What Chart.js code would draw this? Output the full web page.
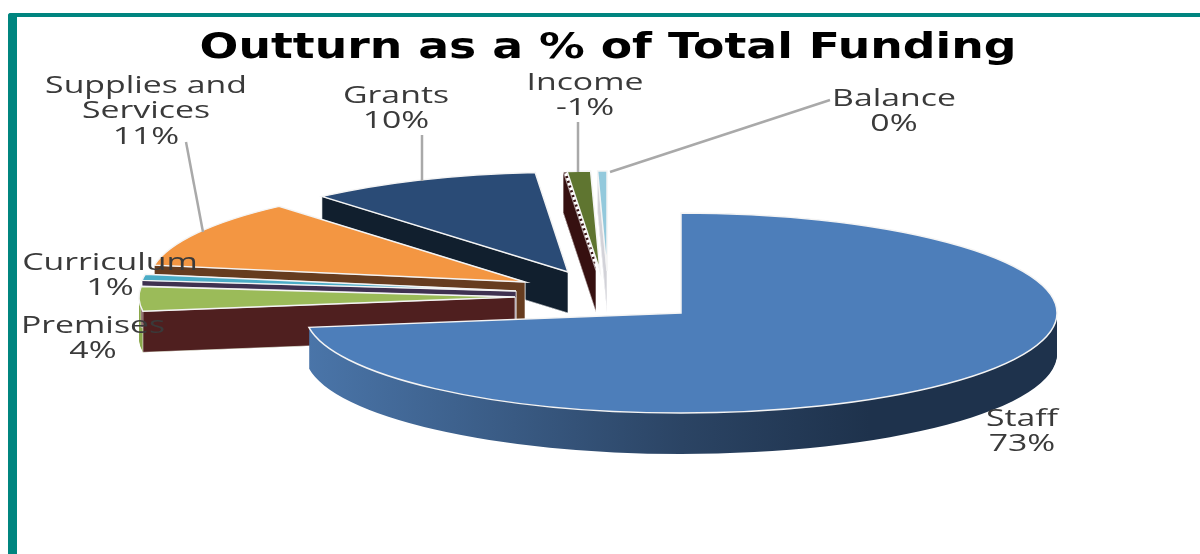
<!DOCTYPE html>
<html>
<head>
<meta charset="utf-8">
<script src="https://cdn.jsdelivr.net/npm/chart.js@4"></script>
<style>
  html, body { margin: 0; background: #fff; overflow: hidden; }
  #wrap { position: relative; width: 1200px; height: 554px; }
  #frame {
    position: absolute; left: 8px; top: 13px; width: 1300px; height: 700px;
    border-left: 9px solid #00857f; border-top: 4px solid #00857f;
    border-top-left-radius: 3px;
  }
  canvas { position: absolute; left: 0; top: 0; }
</style>
</head>
<body>
<div id="wrap">
  <div id="frame"></div>
  <canvas id="pie" width="1200" height="554"></canvas>
</div>
<script>
const categories = ['Staff', 'Premises', 'Curriculum', 'Supplies and Services', 'Grants', 'Income', 'Balance'];
const outturn = [73, 4, 1, 11, 10, -1, 0.4];
const chartTitle = 'Outturn as a % of Total Funding';

// Slice styling
const topColors = ['#4d7eba', '#9bbb59', '#4bacc6', '#f39642', '#2a4b76', '#5f7530', '#93c9dc'];
const cutColors = ['#1e324c', '#4f1f1f', '#3f3151', '#663c1f', '#111f2e', '#361010', '#d2d2d8'];
const rimColors = ['#1e324c', '#8aa84d', '#3f3151', '#663c1f', '#111f2e', '#361010', '#d2d2d8'];

// How far each slice is pulled out of the pie, in px
const pullX = [0, -166, -165, -156, -113, -81, -74];
const pullY = [0, -16, -22, -31, -41, -42, -42];
// The Income side wall leans a little to the left
const wallLean = [0, 0, 0, 0, 0, -4, 0];

// Squashed pie
const CX = 681, CY = 313, RX = 376, RY = 100, DEPTH = 41;

// Text blocks: category index, centre x, middle of first line y
const labelSpots = [
  [0, 1022, 419], [1, 93, 326], [2, 110, 263], [3, 146, 86], [4, 396, 96], [5, 585, 83], [6, 894, 99]
];
const leaders = [
  [186, 142, 203, 232], [422, 135, 422, 181], [578, 122, 578, 172], [830, 100, 610, 172]
];

function labelLines(i) {
  const pct = Math.round(outturn[i]) + '%';
  return i === 3 ? ['Supplies and', 'Services', pct] : [categories[i], pct];
}

function wideText(ctx, text, x, y, stretch) {
  ctx.save();
  ctx.translate(x, y);
  ctx.scale(stretch, 1);
  ctx.fillText(text, 0, 0);
  ctx.restore();
}

function slicePath(ctx, arc, ox, oy) {
  const r = arc.outerRadius;
  ctx.save();
  ctx.translate(CX + ox, CY + oy);
  ctx.scale(RX / r, RY / r);
  ctx.beginPath();
  ctx.moveTo(0, 0);
  ctx.arc(0, 0, r, arc.startAngle, arc.endAngle);
  ctx.closePath();
  ctx.restore();
}

function cutFace(ctx, angle, ox, oy) {
  const ex = CX + ox + RX * Math.cos(angle);
  const ey = CY + oy + RY * Math.sin(angle);
  ctx.beginPath();
  ctx.moveTo(CX + ox, CY + oy);
  ctx.lineTo(ex, ey);
  ctx.lineTo(ex, ey + DEPTH);
  ctx.lineTo(CX + ox, CY + oy + DEPTH);
  ctx.closePath();
  ctx.fill();
  ctx.stroke();
}

const pie3d = {
  id: 'pie3d',
  beforeDatasetsDraw(chart) {
    const ctx = chart.ctx;
    const arcs = chart.getDatasetMeta(0).data;
    // back slices first, Staff goes on last
    for (let i = arcs.length - 1; i >= 0; i--) {
      const arc = arcs[i];
      const ox = pullX[i], oy = pullY[i];
      const lean = wallLean[i];

      if (i === 0) {
        const wall = ctx.createLinearGradient(307, 0, 1057, 0);
        wall.addColorStop(0, '#4a75a9');
        wall.addColorStop(0.5, '#2b4464');
        wall.addColorStop(0.75, '#1e324c');
        wall.addColorStop(1, '#1e324c');
        ctx.fillStyle = wall;
      } else {
        ctx.fillStyle = rimColors[i];
      }
      for (let d = DEPTH; d > 0; d--) {
        slicePath(ctx, arc, ox + lean, oy + d);
        ctx.fill();
      }

      if (i > 0) {
        ctx.fillStyle = cutColors[i];
        ctx.strokeStyle = 'rgba(255,255,255,0.6)';
        ctx.lineWidth = 1;
        cutFace(ctx, arc.endAngle, ox + lean, oy);
        cutFace(ctx, arc.startAngle, ox + lean, oy);
      }

      slicePath(ctx, arc, ox, oy);
      ctx.fillStyle = arc.options.backgroundColor;
      ctx.fill();
      ctx.strokeStyle = '#f4f4f4';
      ctx.lineWidth = 1.5;
      ctx.stroke();

      // dashed seam between the Income top and its wall
      if (lean) {
        ctx.beginPath();
        ctx.moveTo(CX + ox + lean / 2, CY + oy);
        ctx.lineTo(CX + ox + lean / 2 + RX * Math.cos(arc.startAngle), CY + oy + RY * Math.sin(arc.startAngle));
        ctx.strokeStyle = '#fff';
        ctx.lineWidth = 3;
        ctx.setLineDash([3, 2]);
        ctx.stroke();
        ctx.setLineDash([]);
      }
    }
    return false;
  },
  afterDraw(chart) {
    const ctx = chart.ctx;
    ctx.save();
    ctx.strokeStyle = '#a9a9a9';
    ctx.lineWidth = 2.5;
    leaders.forEach(l => {
      ctx.beginPath();
      ctx.moveTo(l[0], l[1]);
      ctx.lineTo(l[2], l[3]);
      ctx.stroke();
    });

    ctx.textAlign = 'center';
    ctx.textBaseline = 'middle';

    ctx.fillStyle = '#000';
    ctx.font = 'bold 36px "DejaVu Sans"';
    wideText(ctx, chartTitle, 608, 49, 1.27);

    ctx.fillStyle = '#3a3a3a';
    ctx.font = '23px "Open Sans"';
    labelSpots.forEach(([i, x, y]) => {
      labelLines(i).forEach((line, n) => {
        wideText(ctx, line, x, y + n * 25.5, 1.47);
      });
    });
    ctx.restore();
  }
};

new Chart(document.getElementById('pie'), {
  type: 'pie',
  data: {
    labels: categories,
    datasets: [{
      data: outturn.map(Math.abs),
      backgroundColor: topColors,
      borderWidth: 0
    }]
  },
  options: {
    responsive: false,
    animation: false,
    plugins: {
      legend: { display: false },
      tooltip: { enabled: false }
    }
  },
  plugins: [pie3d]
});
</script>
</body>
</html>
